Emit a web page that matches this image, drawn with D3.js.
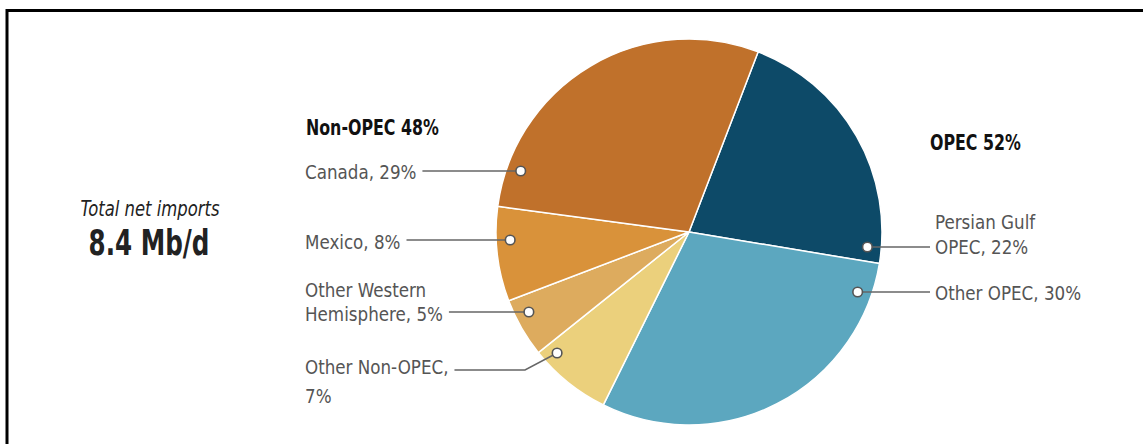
<!DOCTYPE html>
<html>
<head>
<meta charset="utf-8">
<script src="https://cdn.jsdelivr.net/npm/d3@7"></script>
<style>
  body { margin: 0; background: #fff; }
  svg { display: block; }
  .lbl { font-family: "Liberation Sans Narrow", "DejaVu Sans Condensed", "DejaVu Sans", sans-serif; }
</style>
</head>
<body>
<svg id="chart" width="1143" height="444"></svg>
<script>
// DATA
const categories = ["Persian Gulf OPEC", "Other OPEC", "Other Non-OPEC", "Other Western Hemisphere", "Mexico", "Canada"];
const shares = [22, 30, 7, 5, 8, 29];
const labelLines = [
    ["Persian Gulf", "OPEC, 22%"],
    ["Other OPEC, 30%"],
    ["Other Non-OPEC,", "7%"],
    ["Other Western", "Hemisphere, 5%"],
    ["Mexico, 8%"],
    ["Canada, 29%"]
];
const groupLabels = ["OPEC 52%", "Non-OPEC 48%"];
const totalLabel = ["Total net imports", "8.4 Mb/d"];

const colors = ["#0d4a68", "#5ca7bf", "#ebd07c", "#ddab5e", "#d9923a", "#c0712b"];

const svg = d3.select("#chart");
const W = 1143, H = 444;
const cx = 689, cy = 232, R = 193, dotR = 179;
const SX = 0.93, SXB = 0.8;   // narrow the fallback fonts

// draws a horizontally-condensed text block, returns scaled line widths
function label(x, y, lines, opts) {
    const sx = opts.sx || SX;
    const g = svg.append("g").attr("transform", `translate(${x},${y}) scale(${sx},1)`);
    const t = g.append("text")
        .attr("class", "lbl")
        .attr("text-anchor", opts.anchor || "start")
        .attr("fill", opts.fill || "#555")
        .style("font-size", (opts.size || 20) + "px")
        .style("font-weight", opts.weight || "normal")
        .style("font-style", opts.style || "normal");
    lines.forEach((s, j) => {
        t.append("tspan").attr("x", 0).attr("dy", j === 0 ? 0 : (opts.lh || 24)).text(s);
    });
    return t.selectAll("tspan").nodes().map(n => n.getComputedTextLength() * sx);
}

// frame (top + left rule)
svg.append("line").attr("x1", 7).attr("x2", W).attr("y1", 10.5).attr("y2", 10.5)
    .attr("stroke", "#000").attr("stroke-width", 3);
svg.append("line").attr("x1", 7).attr("x2", 7).attr("y1", 9).attr("y2", H)
    .attr("stroke", "#000").attr("stroke-width", 3);

// PIE
const startA = 21 * Math.PI / 180;
const pie = d3.pie().sort(null).value(d => d).startAngle(startA).endAngle(startA + 2 * Math.PI);
const arcs = pie(shares);
const arc = d3.arc().innerRadius(0).outerRadius(R);

const g = svg.append("g").attr("transform", `translate(${cx},${cy})`);
g.selectAll("path")
    .data(arcs)
    .enter()
    .append("path")
    .attr("d", arc)
    .attr("fill", (d, i) => colors[i])
    .attr("stroke", "#fff")
    .attr("stroke-width", 1.5)
    .attr("stroke-linejoin", "round");

// label layout: side, text x, leader y, dot y, elbow x (if leader bends), first baseline, line height, leader row
const layout = [
    { side: 1, tx: 935, ly: 247, dy: 247, base: 229, lh: 25, row: 1 },
    { side: 1, tx: 935, ly: 292, dy: 292, base: 300, row: 0 },
    { side: -1, tx: 305, ly: 370, dy: 353, elbow: 525, base: 374, lh: 29, row: 0 },
    { side: -1, tx: 305, ly: 312, dy: 312, base: 297, lh: 24, row: 1 },
    { side: -1, tx: 305, ly: 240, dy: 240, base: 249, row: 0 },
    { side: -1, tx: 305, ly: 171, dy: 171, base: 179, row: 0 }
];

arcs.forEach((a, i) => {
    const L = layout[i];
    const widths = label(L.tx, L.base, labelLines[i], { lh: L.lh });
    const endX = L.side > 0 ? L.tx - 5 : L.tx + widths[L.row] + 6;

    const ddy = L.dy - cy;
    const dotX = cx + L.side * Math.sqrt(dotR * dotR - ddy * ddy);
    const pts = [[dotX, L.dy]];
    if (L.elbow) pts.push([L.elbow, L.ly]);
    pts.push([endX, L.ly]);
    svg.append("path")
        .attr("d", d3.line()(pts))
        .attr("fill", "none")
        .attr("stroke", "#666")
        .attr("stroke-width", 1.5);
    svg.append("circle")
        .attr("cx", dotX).attr("cy", L.dy).attr("r", 4.8)
        .attr("fill", "#fff").attr("stroke", "#555").attr("stroke-width", 1.6);
});

// group headers
label(930, 150, [groupLabels[0]], { fill: "#111", weight: "bold", size: 22, sx: SXB });
label(306, 135, [groupLabels[1]], { fill: "#111", weight: "bold", size: 22, sx: SXB });

// total
label(150, 216, [totalLabel[0]], { fill: "#222", style: "italic", anchor: "middle", size: 21, sx: 0.87 });
label(149, 255, [totalLabel[1]], { fill: "#222", weight: "bold", anchor: "middle", size: 36, sx: 0.76 });
</script>
</body>
</html>
